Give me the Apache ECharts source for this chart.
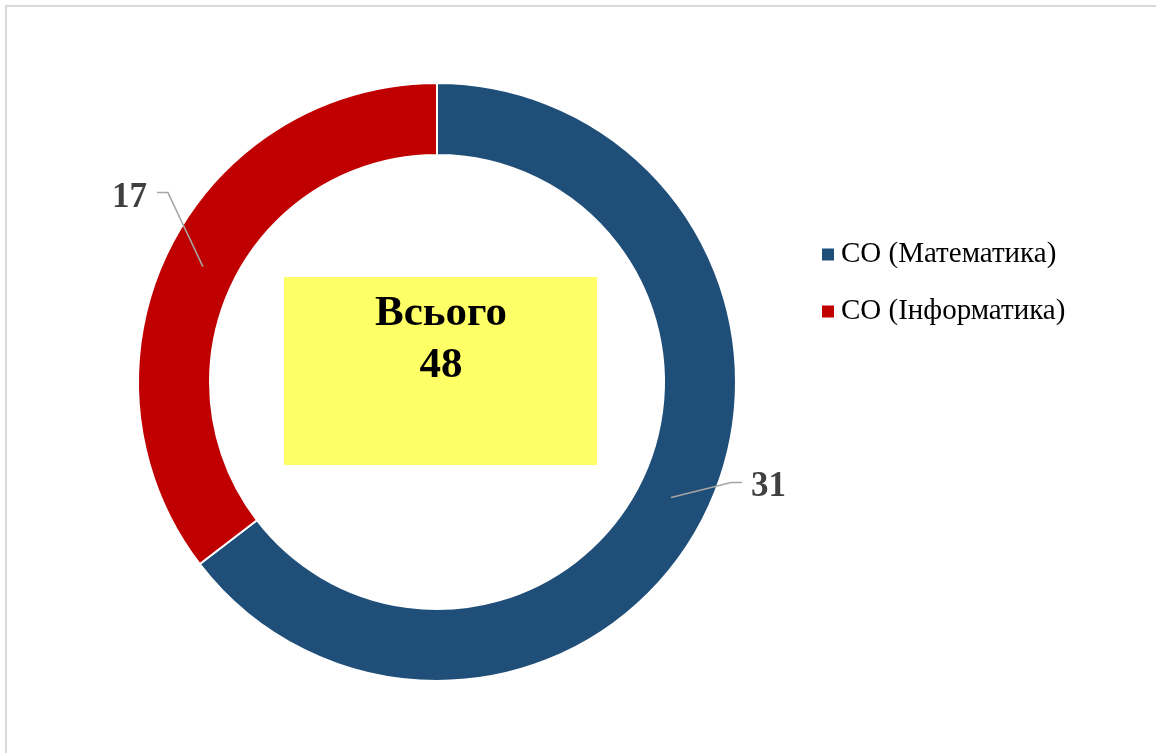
<!DOCTYPE html>
<html>
<head>
<meta charset="utf-8">
<script src="https://cdn.jsdelivr.net/npm/echarts@6/dist/echarts.min.js"></script>
<style>
  html, body { margin: 0; padding: 0; background: #fff; }
  #chart { width: 1156px; height: 753px; }
</style>
</head>
<body>
<div id="chart"></div>
<script>
// дані
var categories = ['СО (Математика)', 'СО (Інформатика)'];
var values = [31, 17];
var colors = ['#1F4E79', '#C00000'];
var totalLabel = 'Всього';

var total = values.reduce(function (a, b) { return a + b; }, 0);
var pieData = categories.map(function (name, i) {
  return { name: name, value: values[i], itemStyle: { color: colors[i] } };
});

// зміщення підписів (відносно середини кільця)
var labelBend = [[60, -15, 11], [-35, -74, -11]];

var myChart = echarts.init(document.getElementById('chart'));
myChart.setOption({
  animation: false,
  legend: {
    orient: 'vertical',
    left: 815,
    top: 235,
    itemWidth: 14,
    itemHeight: 14,
    itemGap: 28,
    icon: 'rect',
    textStyle: {
      fontFamily: 'Liberation Serif',
      fontSize: 29,
      color: '#000',
      padding: [0, 0, 0, 1]
    },
    data: categories
  },
  graphic: [
    {
      type: 'rect',
      shape: { x: 6, y: 6, width: 1300, height: 900 },
      style: { fill: 'none', stroke: '#d9d9d9', lineWidth: 2 },
      silent: true,
      z: -10
    },
    {
      type: 'rect',
      shape: { x: 284, y: 277, width: 313, height: 188 },
      style: { fill: '#FFFF66' },
      z: 10
    },
    {
      type: 'text',
      x: 441,
      y: 340,
      z: 11,
      style: {
        text: totalLabel + '\n' + total,
        fill: '#000',
        font: 'bold 43px "Liberation Serif"',
        lineHeight: 52,
        align: 'center',
        verticalAlign: 'middle'
      }
    }
  ],
  series: [
    {
      name: 'main',
      type: 'pie',
      center: [437, 382],
      radius: [227, 299],
      startAngle: 90,
      clockwise: true,
      silent: true,
      z: 2,
      label: { show: false },
      labelLine: { show: false },
      itemStyle: { borderColor: '#fff', borderWidth: 2 },
      data: pieData
    },
    {
      // прозорий шар: лінії підписів починаються з середини кільця
      name: 'labels',
      type: 'pie',
      center: [437, 382],
      radius: [0, 261],
      startAngle: 90,
      clockwise: true,
      silent: true,
      z: 5,
      legendHoverLink: false,
      itemStyle: { color: 'rgba(0,0,0,0)' },
      label: {
        show: true,
        formatter: '{c}',
        fontFamily: 'Liberation Serif',
        fontWeight: 'bold',
        fontSize: 35,
        color: '#404040'
      },
      labelLine: {
        show: true,
        length: 20,
        length2: 10,
        lineStyle: { color: '#a6a6a6', width: 1.5 }
      },
      labelLayout: function (params) {
        var pts = params.labelLinePoints;
        if (!pts) return {};
        var b = labelBend[params.dataIndex];
        var p0 = pts[0];
        var p1 = [p0[0] + b[0], p0[1] + b[1]];
        var p2 = [p1[0] + b[2], p1[1]];
        var right = b[2] > 0;
        var w = params.labelRect.width;
        var h = params.labelRect.height;
        return {
          x: right ? p2[0] + 9 : p2[0] - 10 - w,
          y: p2[1] - h / 2 + 5,
          align: 'left',
          verticalAlign: 'top',
          labelLinePoints: [p0, p1, p2]
        };
      },
      data: categories.map(function (name, i) {
        return { name: name, value: values[i] };
      })
    }
  ]
});
</script>
</body>
</html>
